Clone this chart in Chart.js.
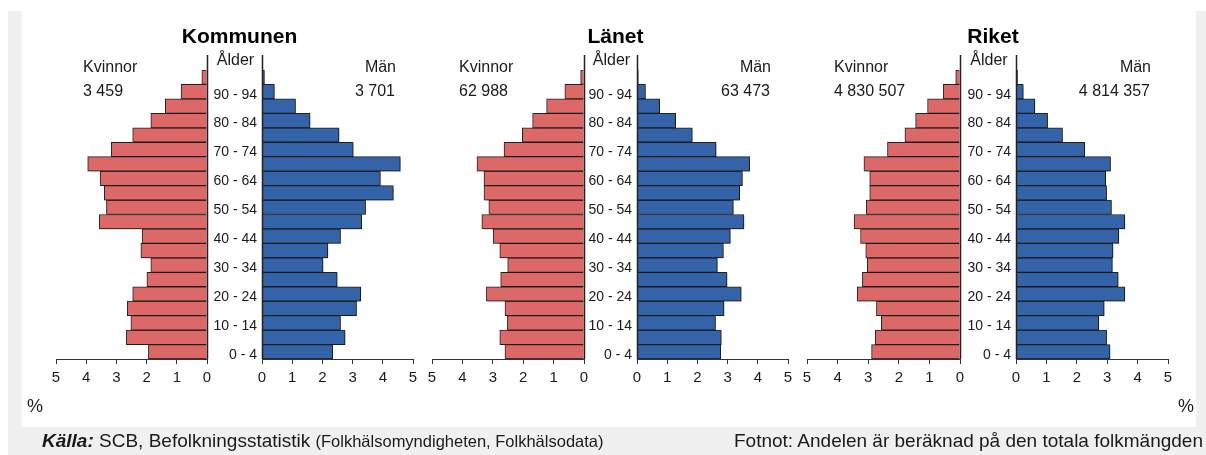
<!DOCTYPE html>
<html>
<head>
<meta charset="utf-8">
<script src="https://cdn.jsdelivr.net/npm/chart.js@4/dist/chart.umd.min.js"></script>
<style>
  html, body { margin: 0; padding: 0; background: #ffffff; }
  #page { position: relative; width: 1206px; height: 455px; overflow: hidden; background: #ffffff;
          font-family: "Liberation Sans", Arial, Helvetica, sans-serif; color: #1a1a1a; }
  #grayframe { position: absolute; left: 8px; top: 11px; right: 0; bottom: 0; background: #f0f0f0; }
  #panel { position: absolute; left: 22px; top: 11px; width: 1174px; height: 416px; background: #ffffff; }
  canvas { position: absolute; left: 0; top: 0; }
  .t { position: absolute; line-height: 1; white-space: nowrap; }
  .title { font-weight: bold; font-size: 21px; color: #000; }
  .lbl { font-size: 16px; }
  .r { text-align: right; }
  .c { text-align: center; }
</style>
</head>
<body>
<div id="page">
  <div id="grayframe"></div>
  <div id="panel"></div>
</div>
<script>
// ---------- Data ----------
const ageGroups = ['0 - 4','5 - 9','10 - 14','15 - 19','20 - 24','25 - 29','30 - 34','35 - 39','40 - 44','45 - 49',
                   '50 - 54','55 - 59','60 - 64','65 - 69','70 - 74','75 - 79','80 - 84','85 - 89','90 - 94','95+'];

const kommunenKvinnor = [1.94, 2.67, 2.52, 2.64, 2.46, 1.99, 1.86, 2.19, 2.15, 3.57, 3.33, 3.40, 3.53, 3.95, 3.17, 2.46, 1.86, 1.38, 0.86, 0.17];
const kommunenMan     = [2.34, 2.75, 2.60, 3.13, 3.27, 2.49, 2.02, 2.18, 2.60, 3.30, 3.43, 4.35, 3.92, 4.58, 3.02, 2.55, 1.59, 1.11, 0.41, 0.08];
const lanetKvinnor    = [2.60, 2.77, 2.52, 2.60, 3.21, 2.74, 2.51, 2.77, 2.99, 3.36, 3.13, 3.29, 3.29, 3.52, 2.63, 2.03, 1.69, 1.23, 0.63, 0.11];
const lanetMan        = [2.77, 2.79, 2.60, 2.88, 3.45, 2.98, 2.66, 2.86, 3.09, 3.54, 3.19, 3.40, 3.49, 3.73, 2.62, 1.83, 1.28, 0.75, 0.28, 0.04];
const riketKvinnor    = [2.89, 2.77, 2.57, 2.73, 3.36, 3.19, 3.03, 3.08, 3.25, 3.46, 3.06, 2.95, 2.95, 3.14, 2.37, 1.80, 1.45, 1.06, 0.55, 0.14];
const riketMan        = [3.09, 2.98, 2.72, 2.90, 3.58, 3.36, 3.17, 3.19, 3.38, 3.58, 3.14, 2.98, 2.95, 3.11, 2.26, 1.53, 1.04, 0.62, 0.24, 0.05];

const panelTitles   = ['Kommunen', 'Länet', 'Riket'];
const totalKvinnor  = ['3 459', '62 988', '4 830 507'];
const totalMan      = ['3 701', '63 473', '4 814 357'];
const axisMin = 0, axisMax = 5, axisStep = 1;

// ---------- Layout / style ----------
const W = 1206, H = 455;
const FONT = '"Liberation Sans", Arial, Helvetica, sans-serif';
const RED = '#dc6867', BLUE = '#3563a9', EDGE = '#222222', INK = '#1a1a1a';
const PLOT_TOP = 70, PLOT_BOTTOM = 359;
const panels = [
  { f5: 56,  f0: 207, m0: 262,  m5: 413,  kv: kommunenKvinnor, ma: kommunenMan },
  { f5: 432, f0: 584, m0: 637,  m5: 788,  kv: lanetKvinnor,    ma: lanetMan },
  { f5: 807, f0: 960, m0: 1016, m5: 1168, kv: riketKvinnor,    ma: riketMan }
];

const page = document.getElementById('page');

const zeroLine = {
  id: 'zeroLine',
  beforeDatasetsDraw(chart) {
    const c = chart.ctx;
    c.save();
    c.shadowColor = 'rgba(0,0,0,0.30)';
    c.shadowOffsetX = 1.5; c.shadowOffsetY = 1.5; c.shadowBlur = 2;
  },
  afterDatasetsDraw(chart) { chart.ctx.restore(); },
  afterDraw(chart) {
    const c = chart.ctx, a = chart.chartArea;
    const x = Math.round(chart.scales.x.getPixelForValue(0)) + 0.5;
    c.save();
    c.strokeStyle = '#222'; c.lineWidth = 1.5;
    c.beginPath(); c.moveTo(x, a.top - 15); c.lineTo(x, a.bottom); c.stroke();
    c.restore();
  }
};

function addCanvas() {
  const cv = document.createElement('canvas');
  cv.width = W; cv.height = H;
  cv.style.width = W + 'px'; cv.style.height = H + 'px';
  page.appendChild(cv);
  return cv;
}

function xScale(reverse) {
  return {
    min: axisMin, max: axisMax, reverse: reverse, position: 'bottom',
    afterFit(s) { s.height = H - PLOT_BOTTOM; },
    grid: { drawOnChartArea: false, drawTicks: true, tickLength: 5, color: '#333', lineWidth: 1 },
    border: { display: true, color: '#333', width: 1 },
    ticks: { stepSize: axisStep, color: INK, padding: 5, maxRotation: 0, font: { family: FONT, size: 15 } }
  };
}

function dataset(values, color) {
  return { data: values, backgroundColor: color, borderColor: EDGE, borderWidth: 1,
           barPercentage: 1, categoryPercentage: 1 };
}

panels.forEach((p, i) => {
  // Women (left, reversed axis)
  new Chart(addCanvas(), {
    type: 'bar',
    data: { labels: ageGroups, datasets: [dataset(p.kv, RED)] },
    options: {
      indexAxis: 'y', responsive: false, animation: false, devicePixelRatio: 1,
      layout: { padding: { left: p.f5, right: W - p.f0, top: PLOT_TOP, bottom: 0 } },
      plugins: { legend: { display: false }, tooltip: { enabled: false } },
      scales: { x: xScale(true), y: { display: false, reverse: true } }
    },
    plugins: [zeroLine]
  });
  // Men (right) with age labels on its left axis
  const yW = 60;
  new Chart(addCanvas(), {
    type: 'bar',
    data: { labels: ageGroups, datasets: [dataset(p.ma, BLUE)] },
    options: {
      indexAxis: 'y', responsive: false, animation: false, devicePixelRatio: 1,
      layout: { padding: { left: p.m0 - yW, right: W - p.m5, top: PLOT_TOP, bottom: 0 } },
      plugins: { legend: { display: false }, tooltip: { enabled: false } },
      scales: {
        x: xScale(false),
        y: {
          reverse: true, position: 'left',
          afterFit(s) { s.width = yW; },
          grid: { display: false, drawTicks: false },
          border: { display: false },
          ticks: { autoSkip: false, padding: 5, labelOffset: 3, color: INK, font: { family: FONT, size: 14 },
                   callback: (v, idx) => (idx % 2 === 0 ? ageGroups[idx] : '') }
        }
      }
    },
    plugins: [zeroLine]
  });

  // Texts
  const mid = (p.f0 + p.m0) / 2;
  addText(panelTitles[i], mid + 5 - 100, 25, 'title c', 200);
  addText('Ålder', mid + 1 - 40, 52, 'lbl c', 80);
  addText('Kvinnor', p.f5 + 27, 58.5, 'lbl');
  addText(totalKvinnor[i], p.f5 + 27, 82.5, 'lbl');
  addText('Män', p.m5 - 17 - 200, 58.5, 'lbl r', 200);
  addText(totalMan[i], p.m5 - 18 - 200, 82.5, 'lbl r', 200);
});

function addText(txt, left, top, cls, width) {
  const d = document.createElement('div');
  d.className = 't ' + cls;
  d.textContent = txt;
  d.style.left = left + 'px';
  d.style.top = top + 'px';
  if (width) d.style.width = width + 'px';
  page.appendChild(d);
  return d;
}

addText('%', 27, 396.5, '', null).style.fontSize = '18px';
addText('%', 1178, 396.5, '', null).style.fontSize = '18px';

const src = addText('', 42, 431, '', null);
src.style.fontSize = '19px';
src.innerHTML = '<b><i>Källa:</i></b> SCB, Befolkningsstatistik <span style="font-size:16.5px">(Folkhälsomyndigheten, Folkhälsodata)</span>';
const fot = addText('Fotnot: Andelen är beräknad på den totala folkmängden', 1203 - 600, 431, 'r', 600);
fot.style.fontSize = '19px';
</script>
</body>
</html>
